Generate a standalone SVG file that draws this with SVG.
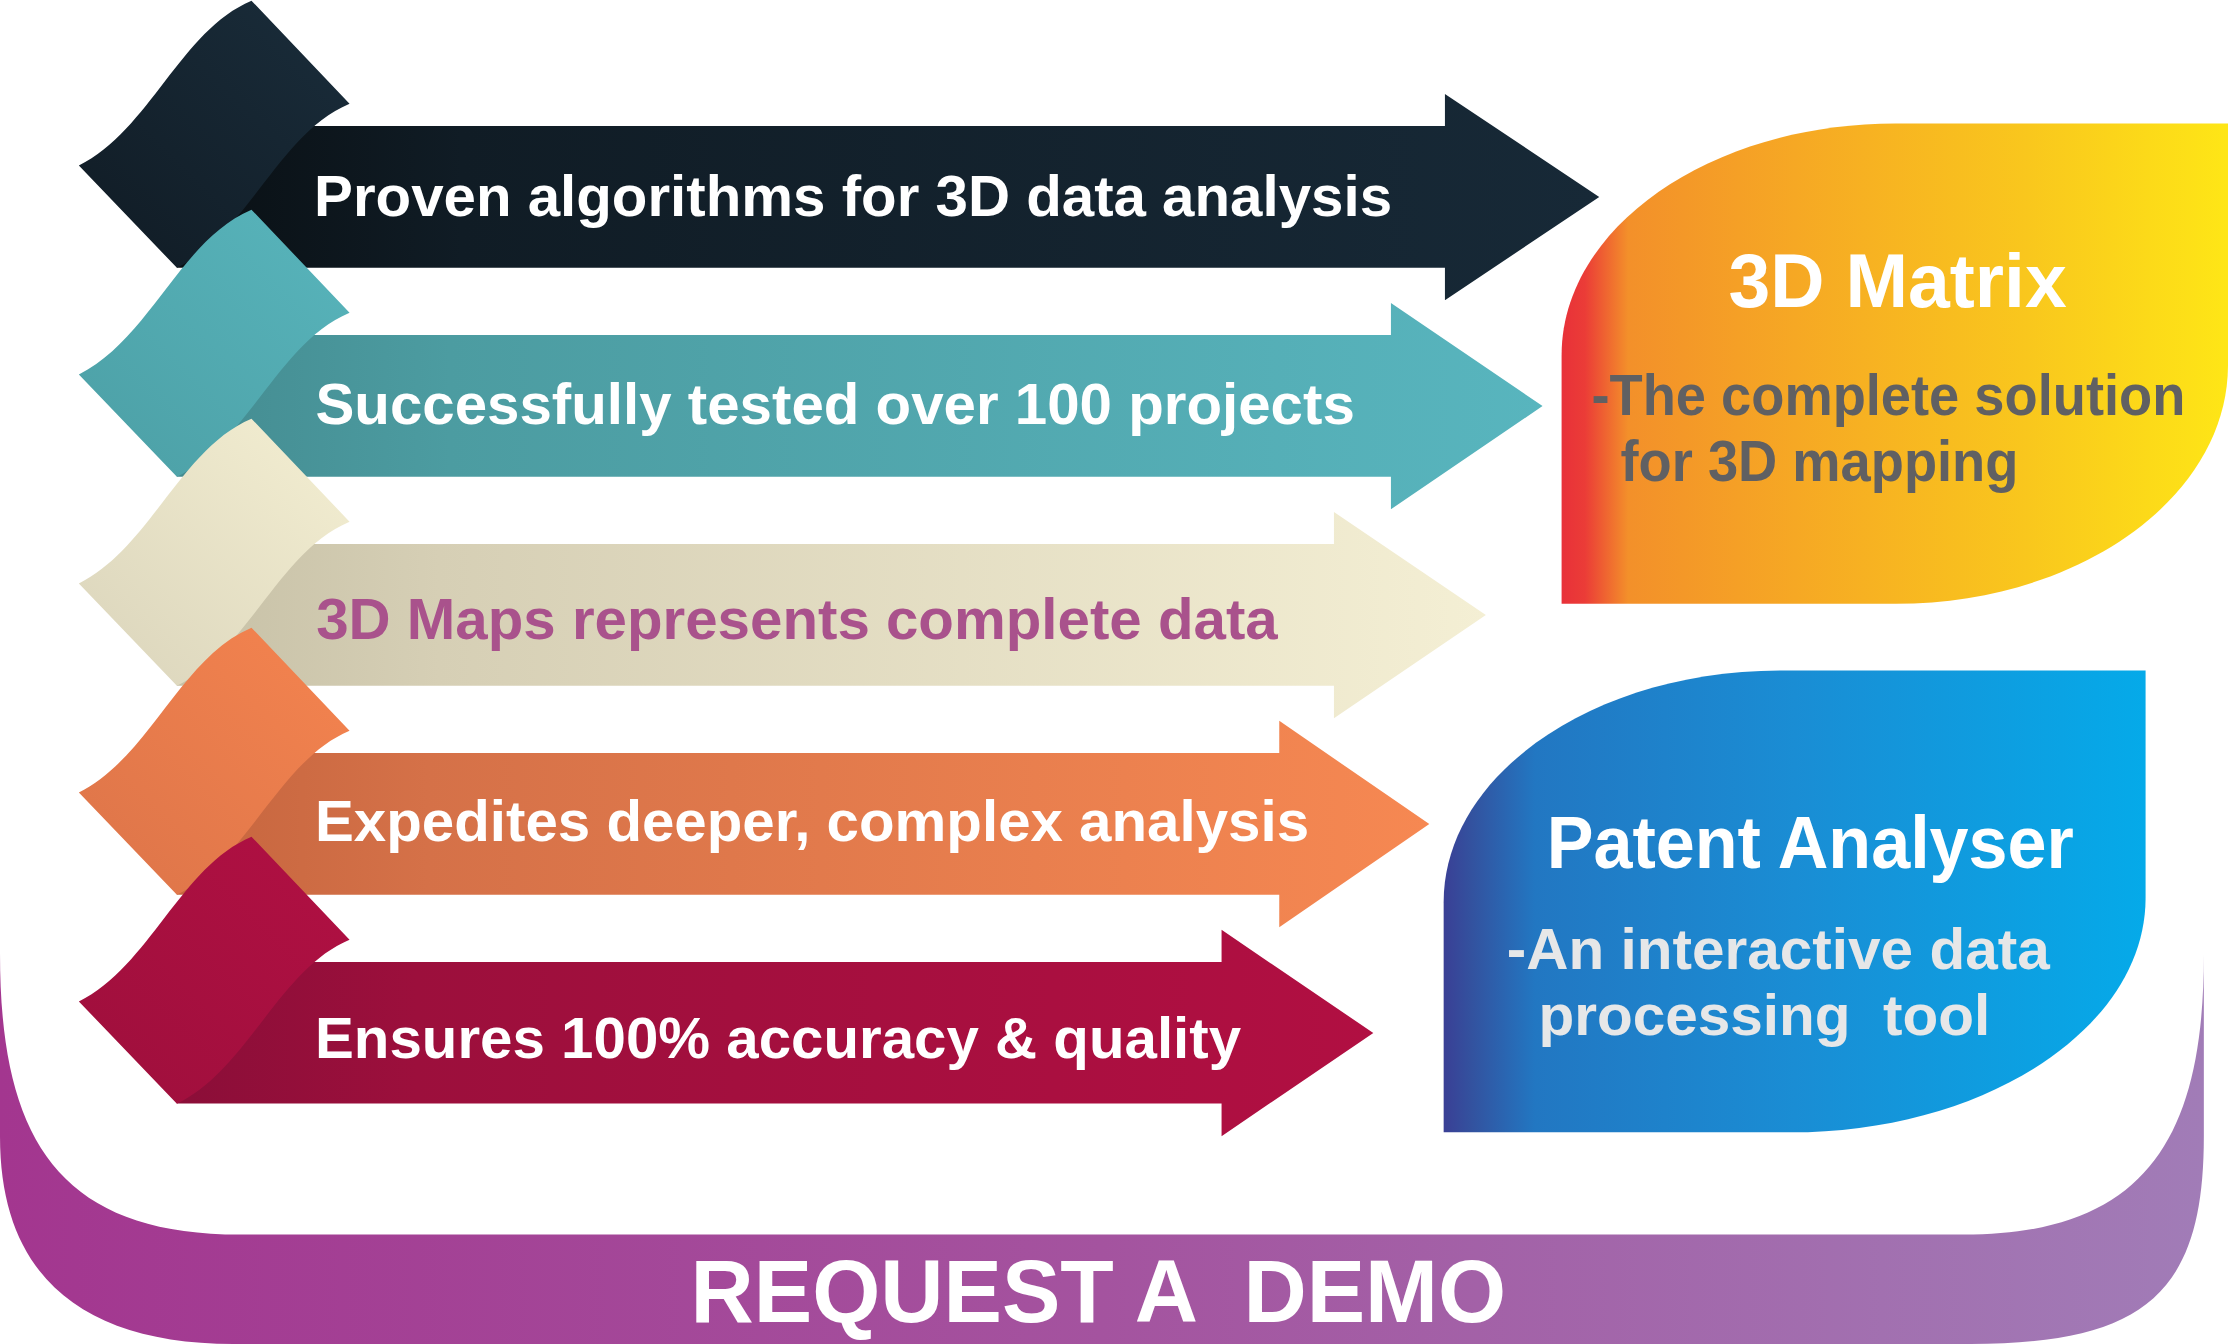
<svg xmlns="http://www.w3.org/2000/svg" width="2228" height="1344" viewBox="0 0 2228 1344">
<defs>
  <linearGradient id="gPurple" gradientUnits="userSpaceOnUse" x1="0" y1="0" x2="1551" y2="0">
    <stop offset="0" stop-color="#a3368f"/>
    <stop offset="0.5" stop-color="#a4539f"/>
    <stop offset="1" stop-color="#a17cb7"/>
  </linearGradient>
  <linearGradient id="gOrangeBox" x1="0" y1="0" x2="1" y2="0">
    <stop offset="0" stop-color="#e83139"/>
    <stop offset="0.035" stop-color="#eb3c37"/>
    <stop offset="0.1" stop-color="#f3902a"/>
    <stop offset="0.35" stop-color="#f6a824"/>
    <stop offset="0.7" stop-color="#f9c71d"/>
    <stop offset="1" stop-color="#fee616"/>
  </linearGradient>
  <linearGradient id="gBlueBox" x1="0" y1="0" x2="1" y2="0">
    <stop offset="0" stop-color="#3a3f95"/>
    <stop offset="0.04" stop-color="#33529f"/>
    <stop offset="0.13" stop-color="#2277c2"/>
    <stop offset="0.5" stop-color="#1a8dd4"/>
    <stop offset="1" stop-color="#05aae9"/>
  </linearGradient>
  <linearGradient id="gNavyBody" x1="0" y1="0" x2="1" y2="0">
    <stop offset="0" stop-color="#090f13"/>
    <stop offset="0.2" stop-color="#101c25"/>
    <stop offset="1" stop-color="#172937"/>
  </linearGradient>
  <linearGradient id="gNavyWave" x1="0" y1="1" x2="1" y2="0">
    <stop offset="0" stop-color="#101b24"/>
    <stop offset="1" stop-color="#1a2d3b"/>
  </linearGradient>
  <linearGradient id="gTealBody" x1="0" y1="0" x2="1" y2="0">
    <stop offset="0" stop-color="#448b90"/>
    <stop offset="0.2" stop-color="#4c9ca1"/>
    <stop offset="1" stop-color="#58b5be"/>
  </linearGradient>
  <linearGradient id="gTealWave" x1="0" y1="1" x2="1" y2="0">
    <stop offset="0" stop-color="#4c9fa5"/>
    <stop offset="1" stop-color="#58b5bc"/>
  </linearGradient>
  <linearGradient id="gCreamBody" x1="0" y1="0" x2="1" y2="0">
    <stop offset="0" stop-color="#c6c0a6"/>
    <stop offset="0.2" stop-color="#d6cfb5"/>
    <stop offset="1" stop-color="#f4efd4"/>
  </linearGradient>
  <linearGradient id="gCreamWave" x1="0" y1="1" x2="1" y2="0">
    <stop offset="0" stop-color="#dad4bb"/>
    <stop offset="1" stop-color="#f4efd2"/>
  </linearGradient>
  <linearGradient id="gOrangeBody" x1="0" y1="0" x2="1" y2="0">
    <stop offset="0" stop-color="#c5653e"/>
    <stop offset="0.2" stop-color="#d57148"/>
    <stop offset="1" stop-color="#f68852"/>
  </linearGradient>
  <linearGradient id="gOrangeWave" x1="0" y1="1" x2="1" y2="0">
    <stop offset="0" stop-color="#dc7449"/>
    <stop offset="1" stop-color="#f5844f"/>
  </linearGradient>
  <linearGradient id="gCrimBody" x1="0" y1="0" x2="1" y2="0">
    <stop offset="0" stop-color="#8b0e38"/>
    <stop offset="0.2" stop-color="#9c0f3c"/>
    <stop offset="1" stop-color="#b10f42"/>
  </linearGradient>
  <linearGradient id="gCrimWave" x1="0" y1="1" x2="1" y2="0">
    <stop offset="0" stop-color="#9e0f3c"/>
    <stop offset="1" stop-color="#b11043"/>
  </linearGradient>
  <path id="wave" d="M55.5,116.5 C105.5,91.5 127,21.5 177,0.5 L246,73 C196,94 174.5,164 124.5,188.5 Z"/>
</defs>
<style>
  .t{font-family:"Liberation Sans",Arial,"DejaVu Sans",sans-serif;font-weight:700;}
  .lbl{font-size:41px;fill:#ffffff;}
  .lbl-dark{font-size:41px;fill:#a9528c;}
  .head{fill:#ffffff;}
  .sub-gray{font-size:41px;fill:#606062;}
  .sub-light{font-size:41px;fill:#e6e7e8;}
</style>
<rect x="0" y="0" width="2228" height="1344" fill="#ffffff"/>
<g transform="scale(1.42092 1.42072)">
  <g id="request-demo">
    <path d="M0,671 L0,800 C0,900 60,946 165,946 L1386,946 C1510,946 1551,910 1551,800 L1551,672 C1551,800 1511,869 1382,869 L169,869 C40,869 0,800 0,671 Z" fill="url(#gPurple)"/>
    <text class="t head" x="486" y="930.3" font-size="62" textLength="574" lengthAdjust="spacingAndGlyphs" xml:space="preserve">REQUEST A  DEMO</text>
  </g>

  <g id="arrow-1">
    <path d="M124.5,88.7 H1016.9 V66.1 L1125.5,138.7 L1016.9,211.3 V188.4 H124.5 Z" fill="url(#gNavyBody)"/>
    <use href="#wave" fill="url(#gNavyWave)"/>
    <text class="t lbl" x="221" y="152">Proven algorithms for 3D data analysis</text>
  </g>

  <g id="arrow-2" transform="translate(0,147.1)">
    <path d="M124.5,88.7 H978.9 V66.1 L1085.6,138.7 L978.9,211.3 V188.4 H124.5 Z" fill="url(#gTealBody)"/>
    <use href="#wave" fill="url(#gTealWave)"/>
    <text class="t lbl" x="222" y="151.3">Successfully tested over 100 projects</text>
  </g>

  <g id="arrow-3" transform="translate(0,294.2)">
    <path d="M124.5,88.7 H938.8 V66.1 L1045.7,138.7 L938.8,211.3 V188.4 H124.5 Z" fill="url(#gCreamBody)"/>
    <use href="#wave" fill="url(#gCreamWave)"/>
    <text class="t lbl-dark" x="222.5" y="155.7">3D Maps represents complete data</text>
  </g>

  <g id="arrow-4" transform="translate(0,441.3)">
    <path d="M124.5,88.7 H900.3 V66.1 L1005.9,138.7 L900.3,211.3 V188.4 H124.5 Z" fill="url(#gOrangeBody)"/>
    <use href="#wave" fill="url(#gOrangeWave)"/>
    <text class="t lbl" x="221.7" y="151">Expedites deeper, complex analysis</text>
  </g>

  <g id="arrow-5" transform="translate(0,588.4)">
    <path d="M124.5,88.7 H859.7 V66.1 L966.5,138.7 L859.7,211.3 V188.4 H124.5 Z" fill="url(#gCrimBody)"/>
    <use href="#wave" fill="url(#gCrimWave)"/>
    <text class="t lbl" x="221.7" y="156.6">Ensures 100% accuracy &amp; quality</text>
  </g>

  <g id="box-3d-matrix">
    <path d="M1099,425 L1099,250 C1099,160 1204,87 1334,87 L1568,87 L1568,257 C1568,350 1463,425 1334,425 Z" fill="url(#gOrangeBox)"/>
    <text class="t head" x="1216.5" y="216" font-size="53.5" textLength="238" lengthAdjust="spacingAndGlyphs">3D Matrix</text>
    <text class="t sub-gray" x="1120" y="292" textLength="418" lengthAdjust="spacingAndGlyphs">-The complete solution</text>
    <text class="t sub-gray" x="1140.5" y="338.3" textLength="280" lengthAdjust="spacingAndGlyphs">for 3D mapping</text>
  </g>

  <g id="box-patent-analyser">
    <path d="M1016,797 L1016,635 C1016,545 1122,472 1253,472 L1510,472 L1510,632 C1510,723 1398,797 1260,797 Z" fill="url(#gBlueBox)"/>
    <text class="t head" x="1088.5" y="611" font-size="52.6" textLength="371" lengthAdjust="spacingAndGlyphs">Patent Analyser</text>
    <text class="t sub-light" x="1060.5" y="682.3" textLength="382" lengthAdjust="spacingAndGlyphs">-An interactive data</text>
    <text class="t sub-light" x="1082.7" y="728.4" textLength="318" lengthAdjust="spacingAndGlyphs" xml:space="preserve">processing  tool</text>
  </g>

  <g id="connectors"/>
</g>
</svg>
